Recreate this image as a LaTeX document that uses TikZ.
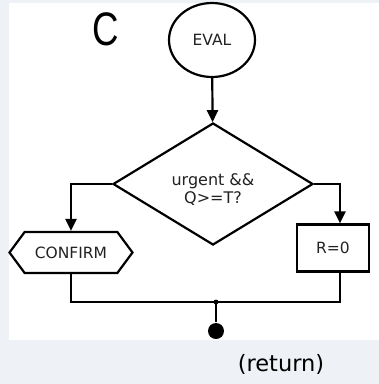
\documentclass[tikz,border=0pt]{standalone}
\usepackage{fontspec}
\setmainfont{DejaVu Sans}
\newfontfamily\letterfont{Liberation Sans}
\usetikzlibrary{shapes.geometric,shapes.symbols,arrows.meta}
\definecolor{pagebg}{HTML}{EEF2F6}
\definecolor{ink}{HTML}{222222}

\begin{document}
\begin{tikzpicture}[x=1pt,y=-1pt,line width=2.2pt]
\tikzstyle{every node}+=[inner sep=0pt,text=ink,font=\fontsize{15.5}{16}\selectfont]
\tikzstyle{arr}=[-{Triangle[length=12pt,width=11pt]}]
\useasboundingbox (0,0) rectangle (379,384);
\fill [pagebg] (0,0) rectangle (379,384);
\fill [white] (9,3) rectangle (379,340);
% panel letter
\node [font=\letterfont\fontsize{47}{47}\selectfont,xscale=0.78,text=black] (lbl) at (106,29.5) {C};
% flow nodes
\node [draw,ellipse,minimum width=86pt,minimum height=74pt] (eval) at (212,40) {EVAL};
\node [draw,diamond,minimum width=200pt,minimum height=122pt] (test) at (213,184) {};
\node [align=center,font=\fontsize{16}{16.5}\selectfont] (testtxt) at (213,190) {urgent \&\&\\[1.5pt]Q>=T?};
\node [draw,signal,signal to=west and east,signal pointer angle=107,
       minimum width=123pt,minimum height=41pt] (confirm) at (71,252.5) {CONFIRM};
\node [draw,rectangle,minimum width=72pt,minimum height=47pt] (zero) at (333,248) {R=0};
\coordinate (join) at (216,302);
% connectors
\draw [arr] (eval) -- (test);
\draw [arr] (test.west) -| (confirm.north);
\draw [arr] (test.east) -| ([xshift=7pt]zero.north);
\draw (confirm.south) |- (join) -| ([xshift=7pt]zero.south);
\fill (join) circle (2.4);
\begin{scope}
\clip (9,3) rectangle (379,340);
\node [circle,fill=black,minimum size=16pt] (stop) at (216,331) {};
\end{scope}
\draw (join) -- (stop);
\node [font=\fontsize{22.5}{24}\selectfont,text=black] (ret) at (281,364) {(return)};
\end{tikzpicture}
\end{document}
